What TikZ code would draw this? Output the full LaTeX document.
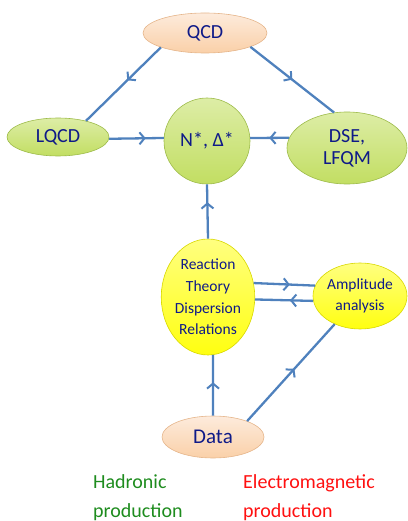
\documentclass[tikz,border=0pt]{standalone}
\usepackage{fontspec}
\setmainfont{Carlito}
\usetikzlibrary{shapes.geometric,arrows.meta,decorations.markings}
\definecolor{peach}{HTML}{FAD0A8}
\definecolor{peachtop}{HTML}{FDEBDC}
\definecolor{peachline}{HTML}{E5B58A}
\definecolor{lgreen}{HTML}{C2DE62}
\definecolor{lgreentop}{HTML}{DDEDA6}
\definecolor{greenline}{HTML}{9DBB4A}
\definecolor{yel}{HTML}{FFFF10}
\definecolor{yeltop}{HTML}{FFFF80}
\definecolor{yelline}{HTML}{D8D800}
\definecolor{navy}{HTML}{0F1A88}
\definecolor{conn}{HTML}{4F81BD}
\definecolor{hadgreen}{HTML}{1E8C1E}
\definecolor{emred}{HTML}{FF1010}
\tikzset{
  bub/.style={ellipse, inner sep=0pt, text=navy, align=center, line width=0.6pt},
  peachbub/.style={bub, draw=peachline, top color=peachtop, bottom color=peach},
  greenbub/.style={bub, draw=greenline, top color=lgreentop, bottom color=lgreen},
  yelbub/.style={bub, draw=yelline, top color=yeltop, bottom color=yel},
  big/.style={font=\fontsize{20}{22}\selectfont},
  mid/.style={font=\fontsize{15.5}{21.7}\selectfont},
  conline/.style={draw=conn, line width=2.3pt},
  midarrow/.style={postaction={decorate}, decoration={markings,
      mark=at position #1 with {\arrow[conn]{Straight Barb[length=5pt,width=12pt,line width=2pt]}}}},
  caption/.style={anchor=north west, inner sep=0pt, align=left, font=\fontsize{20}{29}\selectfont}
}
\begin{document}
\begin{tikzpicture}[x=1pt,y=-1pt]
\useasboundingbox (0,0) rectangle (407,521);
\node[peachbub, big, minimum width=124pt, minimum height=40pt] (qcd) at (205,33) {QCD};
\node[greenbub, big, minimum width=102pt, minimum height=38pt] (lqcd) at (58,137) {LQCD};
\node[greenbub, big, circle, minimum size=86pt] (nstar) at (207,141) {N*, Δ*};
\node[greenbub, big, minimum width=120pt, minimum height=72pt] (dse) at (347,148) {DSE,\\LFQM};
\node[yelbub, mid, minimum width=84pt, minimum height=116pt] (react) at (208,297) {Reaction\\Theory\\Dispersion\\Relations};
\node[yelbub, mid, minimum width=94pt, minimum height=66pt] (amp) at (360,296) {Amplitude\\analysis};
\node[peachbub, font=\fontsize{21}{24}\selectfont, minimum width=102pt, minimum height=42pt] (data) at (213,437) {Data};
\node[caption, text=hadgreen] (had) at (93,474) {Hadronic\\production};
\node[caption, text=emred] (em) at (243,474) {Electromagnetic\\production};
% connectors
\draw[conline, midarrow=0.45] (qcd.198) -- (lqcd.30);
\draw[conline, midarrow=0.5] (qcd.343) -- (dse.110);
\draw[conline, midarrow=0.67] (lqcd.-2) -- (nstar.176);
\draw[conline, midarrow=0.51] (dse.170) -- (nstar.4);
\draw[conline, midarrow=0.67] (react.north) -- (nstar.south);
\draw[conline, midarrow=0.59] (react.17) -- (amp.167);
\draw[conline, midarrow=0.4] (amp.186) -- (react.-3);
\draw[conline, midarrow=0.55] (data.north) -- (react.-85);
\draw[conline, midarrow=0.54] (data.25) -- (amp.228);
\end{tikzpicture}
\end{document}
